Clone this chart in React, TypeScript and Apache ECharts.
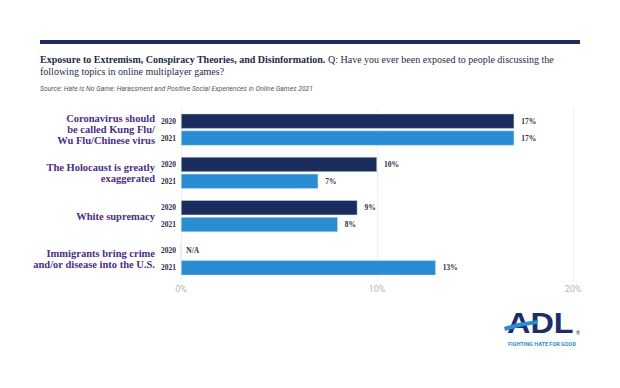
import React, { useEffect, useRef } from "react";
import * as echarts from "echarts";

const categories = [
  "Coronavirus should\nbe called Kung Flu/\nWu Flu/Chinese virus",
  "The Holocaust is greatly\nexaggerated",
  "White supremacy",
  "Immigrants bring crime\nand/or disease into the U.S.",
];
const years = ["2020", "2021"];
const values2020: (number | null)[] = [17, 10, 9, null];
const values2021: (number | null)[] = [17, 7, 8, 13];
const xMax = 20;
const xInterval = 10;

const NAVY = "#1b2d5d";
const BLUE = "#2a8dd4";
const PURPLE = "#4b2e83";
const SERIF = "'Liberation Serif', 'DejaVu Serif', serif";
const SANS = "'Roboto', 'Liberation Sans', sans-serif";

export default function App() {
  const ref = useRef<HTMLDivElement>(null);
  useEffect(() => {
    document.body.style.margin = "0";
    const chart = echarts.init(ref.current!, null, { renderer: "svg" });

    const yearLabelSeries = (year: string, stack: string) => ({
      type: "bar",
      name: year + "-label",
      stack,
      barWidth: 15,
      barGap: "13%",
      data: categories.map(() => 0),
      itemStyle: { color: "transparent" },
      silent: true,
      label: {
        show: true,
        position: "left",
        distance: 5,
        formatter: year,
        color: "#2b2f4a",
        fontFamily: SERIF,
        fontWeight: "bold",
        fontSize: 7.5,
      },
    });

    const dataSeries = (year: string, stack: string, vals: (number | null)[], color: string) => ({
      type: "bar",
      name: year,
      stack,
      barWidth: 15,
      barGap: "13%",
      itemStyle: { color, borderColor: "#cfe3f5", borderWidth: 0.5 },
      data: vals.map((v) =>
        v === null
          ? { value: 0, label: { formatter: "N/A", distance: 5 } }
          : { value: v }
      ),
      label: {
        show: true,
        position: "right",
        distance: 7,
        formatter: (p: any) => p.value + "%",
        color: "#2b2f4a",
        fontFamily: SERIF,
        fontWeight: "bold",
        fontSize: 7.5,
      },
    });

    chart.setOption({
      animation: false,
      grid: { left: 181, right: 47, top: 108, height: 173 },
      xAxis: {
        type: "value",
        min: 0,
        max: xMax,
        interval: xInterval,
        axisLine: { show: false },
        axisTick: { show: false },
        splitLine: { show: true, lineStyle: { color: "#f0f0f0", width: 1 } },
        axisLabel: {
          formatter: "{value}%",
          color: "#b5b5b5",
          fontFamily: SANS,
          fontSize: 9,
          margin: 3,
        },
      },
      yAxis: {
        type: "category",
        inverse: true,
        data: categories,
        axisLine: { show: false },
        axisTick: { show: false },
        axisLabel: {
          margin: 26,
          color: PURPLE,
          fontFamily: SERIF,
          fontWeight: "bold",
          fontSize: 10.5,
          lineHeight: 11,
          align: "right",
        },
      },
      series: [
        yearLabelSeries(years[0], "a"),
        dataSeries(years[0], "a", values2020, NAVY),
        yearLabelSeries(years[1], "b"),
        dataSeries(years[1], "b", values2021, BLUE),
      ],
      graphic: [
        {
          type: "rect",
          shape: { x: 40, y: 40, width: 540, height: 4 },
          style: { fill: "#1f2b5c" },
        },
        {
          type: "text",
          x: 40,
          y: 53,
          style: {
            text:
              "{b|Exposure to Extremism, Conspiracy Theories, and Disinformation.}{n| Q: Have you ever been exposed to people discussing the}\n{n|following topics in online multiplayer games?}",
            rich: {
              b: { fontFamily: SERIF, fontWeight: "bold", fontSize: 10, fill: "#1f2a44", lineHeight: 12 },
              n: { fontFamily: SERIF, fontSize: 10, fill: "#1f2a44", lineHeight: 12 },
            },
          },
        },
        {
          type: "text",
          x: 40,
          y: 85,
          style: {
            text: "Source: Hate is No Game: Harassment and Positive Social Experiences in Online Games 2021",
            fontFamily: SANS,
            fontStyle: "italic",
            fontSize: 6.8,
            fill: "#555555",
          },
        },
        {
          type: "text",
          x: 507,
          y: 310,
          scaleX: 1.08,
          style: {
            text: "ADL",
            fontFamily: "'Liberation Sans', Arial, sans-serif",
            fontWeight: "bold",
            fontSize: 30,
            lineHeight: 26,
            fill: "#1d2d6b",
          },
        },
        {
          type: "polygon",
          shape: {
            points: [
              [504, 327],
              [518, 323],
              [538, 320],
              [537, 324],
              [519, 327],
              [505, 331],
            ],
          },
          style: { fill: "#2a8dd4" },
        },
        {
          type: "text",
          x: 576,
          y: 330,
          style: { text: "®", fontFamily: SANS, fontSize: 5, fill: "#1d2d6b" },
        },
        {
          type: "text",
          x: 508,
          y: 341,
          style: {
            text: "FIGHTING HATE FOR GOOD",
            fontFamily: SANS,
            fontWeight: "bold",
            fontSize: 5.5,
            fill: "#2a8dd4",
          },
        },
      ],
    });
    return () => chart.dispose();
  }, []);
  return <div ref={ref} style={{ width: 620, height: 388 }} />;
}
